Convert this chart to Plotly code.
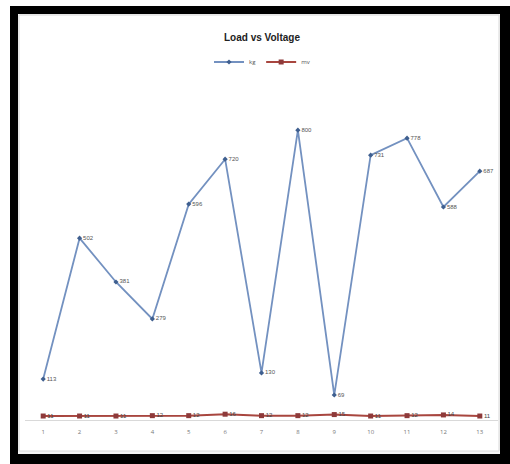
import plotly.graph_objects as go

# ---- data ----
categories = [1, 2, 3, 4, 5, 6, 7, 8, 9, 10, 11, 12, 13]
tick_labels = ["1", "2", "3", "4", "5", "6", "7", "8", "9", "10", "11", "12", "13"]
load_kg = [113, 502, 381, 279, 596, 720, 130, 800, 69, 731, 778, 588, 687]
voltage = [11, 11, 11, 12, 12, 16, 12, 12, 15, 11, 12, 14, 11]
series_names = ["kg", "mv"]
title_text = "Load vs Voltage"

W, H = 510, 464
ML, MR, MT, MB = 25, 12, 94, 44
PW = W - ML - MR
PH = H - MT - MB


def px_x(px):
    return (px - ML) / PW


def px_y(py):
    return (H - MB - py) / PH


fig = go.Figure()

fig.add_trace(go.Scatter(
    x=categories, y=load_kg, name=series_names[0],
    mode="lines+markers+text",
    line=dict(color="#7391c0", width=1.8),
    marker=dict(symbol="diamond", size=4, color="#3f5f8f"),
    text=[str(v) for v in load_kg], textposition="middle right",
    textfont=dict(size=6, color="#555555", family="Liberation Sans"),
    cliponaxis=False,
))
fig.add_trace(go.Scatter(
    x=categories, y=voltage, name=series_names[1],
    mode="lines+markers+text",
    line=dict(color="#a8463f", width=2),
    marker=dict(symbol="square", size=5, color="#8e3a3a"),
    text=[str(v) for v in voltage], textposition="middle right",
    textfont=dict(size=6, color="#444444", family="Liberation Sans"),
    cliponaxis=False,
))

shapes = [
    # black frame
    dict(type="rect", xref="paper", yref="paper", layer="below",
         x0=px_x(10), x1=px_x(511), y0=px_y(6), y1=px_y(465),
         fillcolor="black", line=dict(width=0)),
    # white chart area
    dict(type="rect", xref="paper", yref="paper", layer="below",
         x0=px_x(18), x1=px_x(500), y0=px_y(14), y1=px_y(454),
         fillcolor="#f4f4f4", line=dict(width=0)),
    dict(type="rect", xref="paper", yref="paper", layer="below",
         x0=px_x(19), x1=px_x(499), y0=px_y(15), y1=px_y(451),
         fillcolor="white", line=dict(color="#d8d8d8", width=1)),
]

fig.update_layout(
    width=W, height=H,
    margin=dict(l=ML, r=MR, t=MT, b=MB),
    paper_bgcolor="white",
    plot_bgcolor="rgba(0,0,0,0)",
    shapes=shapes,
    title=dict(text="<b>" + title_text + "</b>", x=px_x(262), xref="paper", xanchor="center",
               y=1 - 37 / H, yref="container", yanchor="middle",
               font=dict(size=10, color="#222222", family="Liberation Sans Narrow, Liberation Sans")),
    legend=dict(orientation="h", x=px_x(262), xanchor="center", y=px_y(62), yanchor="middle",
                font=dict(size=6, color="#555555"), bgcolor="rgba(0,0,0,0)",
                itemwidth=30, tracegroupgap=0),
    showlegend=True,
    xaxis=dict(range=[0.5, 13.5], tickmode="array", tickvals=categories, ticktext=tick_labels,
               showgrid=False, zeroline=False, showline=True, linecolor="#d9d9d9", linewidth=1,
               ticks="", tickfont=dict(size=6, color="#777777"), ticklabelstandoff=6),
    yaxis=dict(range=[0, 900], visible=False, showgrid=False, zeroline=False),
)

fig.write_html("out.html",
               config={"displayModeBar": False},
               post_script="document.body.style.margin='0px';document.body.style.overflow='hidden';")
